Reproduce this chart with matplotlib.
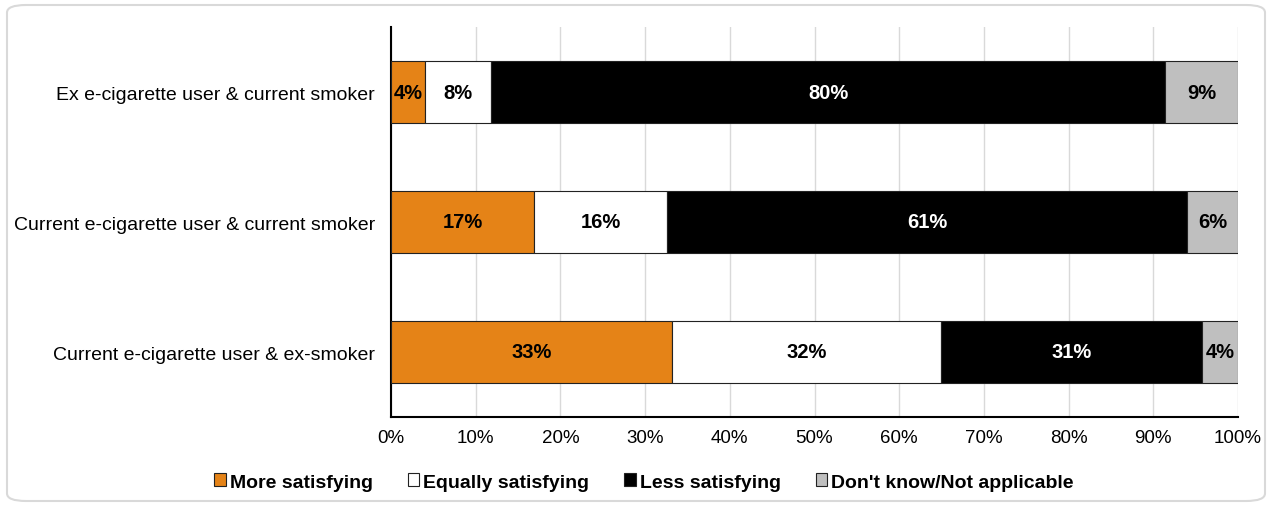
import numpy as np
import matplotlib.pyplot as plt
from matplotlib.patches import FancyBboxPatch

plt.rcParams['font.family'] = ['Liberation Sans', 'DejaVu Sans']

# rows, top to bottom in the picture
groups = ['Ex e-cigarette user & current smoker',
          'Current e-cigarette user & current smoker',
          'Current e-cigarette user & ex-smoker']
series = ['More satisfying', 'Equally satisfying', 'Less satisfying',
          "Don't know/Not applicable"]
more = [4.0, 16.9, 33.2]
equally = [7.8, 15.7, 31.7]
less = [79.6, 61.4, 30.8]
dont_know = [8.6, 6.0, 4.3]
colors = ['#e58317', '#ffffff', '#000000', '#bfbfbf']
text_colors = ['black', 'black', 'white', 'black']
xticks = np.arange(0, 101, 10)

fig = plt.figure(figsize=(12.69, 5.06), dpi=100)
ax = fig.add_axes([391 / 1269, 1 - 418 / 506, 847 / 1269, 390 / 506])

# rounded frame around the chart
frame = FancyBboxPatch((7 / 1269, 4 / 506), 1258 / 1269, 496 / 506,
                       boxstyle='round,pad=0,rounding_size=0.015',
                       transform=fig.transFigure, facecolor='none',
                       edgecolor='#d9d9d9', linewidth=1.5, zorder=-5)
fig.patches.append(frame)

y = np.arange(len(groups))[::-1]
left = np.zeros(len(groups))
for vals, name, c, tc in zip([more, equally, less, dont_know], series,
                             colors, text_colors):
    vals = np.array(vals)
    ax.barh(y, vals, left=left, height=0.475, color=c, edgecolor='#222222',
            linewidth=0.8, label=name, zorder=3)
    for yi, l, v in zip(y, left, vals):
        ax.text(l + v / 2, yi, '%d%%' % round(v), ha='center', va='center',
                color=tc, fontsize=14.5, fontweight='bold', zorder=4)
    left += vals

ax.set_xlim(0, 100)
ax.set_ylim(-0.5, 2.5)
ax.set_xticks(xticks)
ax.set_xticklabels(['%d%%' % t for t in xticks], fontsize=13.5)
ax.set_yticks(y)
ax.set_yticklabels(groups, fontsize=14)
ax.tick_params(axis='both', length=0)
ax.tick_params(axis='y', pad=11.5)
ax.tick_params(axis='x', pad=9)
ax.grid(axis='x', color='#d9d9d9', linewidth=1, zorder=0)
for s in ['top', 'right']:
    ax.spines[s].set_visible(False)
ax.spines['left'].set_linewidth(1.5)
ax.spines['bottom'].set_linewidth(1.5)

fig.legend(loc='center', bbox_to_anchor=(644 / 1269, 1 - 483 / 506), ncol=4,
           frameon=False, handlelength=0.6, handleheight=0.6,
           handletextpad=0.2, columnspacing=1.8,
           prop={'weight': 'bold', 'size': 14})

fig.savefig('out.png', dpi=100)
